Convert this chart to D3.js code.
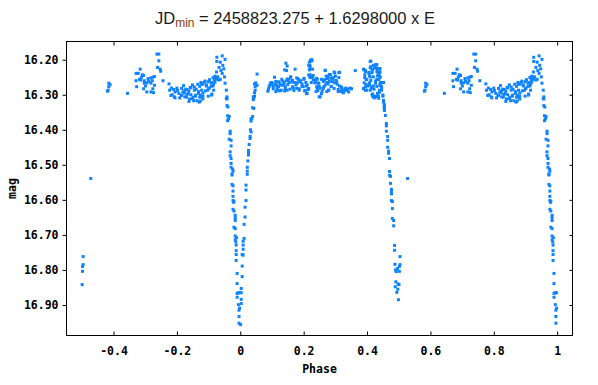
<!DOCTYPE html>
<html><head><meta charset="utf-8">
<script src="https://cdn.jsdelivr.net/npm/d3@7"></script>
<style>body{margin:0;background:#fff}</style>
</head><body>
<svg id="c" width="598" height="385"></svg>
<script>
// ---- tick values ----
const xTicks = [-0.4, -0.2, 0, 0.2, 0.4, 0.6, 0.8, 1];
const yTicks = [16.2, 16.3, 16.4, 16.5, 16.6, 16.7, 16.8, 16.9];
const titleMain = "JD";
const titleSub = "min";
const titleRest = " = 2458823.275 + 1.6298000 x E";

// ---- data: [phase (0..1), mag] ----
const primaryIngress = [[0.956,16.287],[0.956,16.311],[0.958,16.306],[0.958,16.312],[0.958,16.331],[0.961,16.335],[0.960,16.360],[0.965,16.362],[0.963,16.369],[0.960,16.374],[0.968,16.404],[0.968,16.411],[0.965,16.427],[0.971,16.430],[0.971,16.446],[0.968,16.463],[0.968,16.474],[0.971,16.482],[0.971,16.496],[0.971,16.507],[0.976,16.512],[0.977,16.518],[0.974,16.526],[0.974,16.529],[0.974,16.556],[0.977,16.560],[0.977,16.575],[0.977,16.590],[0.977,16.602],[0.980,16.604],[0.979,16.607],[0.977,16.627],[0.980,16.632],[0.984,16.644],[0.984,16.651],[0.984,16.659],[0.980,16.678],[0.984,16.682],[0.984,16.703],[0.988,16.708],[0.984,16.714],[0.986,16.720],[0.987,16.729],[0.987,16.745],[0.987,16.756],[0.987,16.773],[0.990,16.810],[0.990,16.839],[0.990,16.867],[0.994,16.865],[0.990,16.878],[0.998,16.865],[0.994,16.899],[0.998,16.909],[0.996,16.915],[0.996,16.933],[0.996,16.952]];
const primaryEgress = [[0.001,16.956],[0.003,16.853],[0.003,16.865],[0.003,16.884],[0.003,16.896],[0.006,16.789],[0.006,16.819],[0.006,16.756],[0.009,16.758],[0.009,16.741],[0.009,16.729],[0.009,16.718],[0.012,16.710],[0.012,16.670],[0.015,16.649],[0.015,16.621],[0.018,16.602],[0.018,16.572],[0.018,16.558],[0.022,16.527],[0.022,16.518],[0.022,16.507],[0.024,16.489],[0.026,16.472],[0.026,16.466],[0.026,16.459],[0.028,16.442],[0.031,16.425],[0.031,16.419],[0.034,16.406],[0.032,16.400],[0.034,16.375],[0.034,16.369],[0.039,16.362],[0.036,16.368],[0.039,16.337],[0.043,16.339],[0.041,16.314],[0.045,16.304],[0.043,16.309],[0.041,16.306],[0.045,16.294],[0.047,16.287],[0.047,16.277],[0.053,16.273],[0.045,16.269],[0.049,16.266],[0.053,16.241]];
const plateauA = [[0.087,16.290],[0.091,16.277],[0.096,16.266],[0.100,16.271],[0.104,16.283],[0.108,16.250],[0.112,16.262],[0.115,16.273],[0.116,16.287],[0.121,16.277],[0.123,16.266],[0.127,16.288],[0.131,16.256],[0.134,16.273],[0.138,16.264],[0.142,16.283],[0.146,16.260],[0.144,16.210],[0.148,16.218],[0.140,16.229],[0.146,16.231],[0.150,16.271],[0.154,16.256],[0.159,16.250],[0.163,16.264],[0.165,16.277],[0.169,16.288],[0.173,16.227],[0.178,16.252],[0.180,16.266],[0.184,16.256],[0.186,16.283],[0.191,16.260],[0.195,16.269],[0.199,16.277],[0.201,16.256],[0.205,16.288],[0.209,16.275],[0.211,16.296],[0.214,16.285],[0.216,16.216],[0.218,16.207],[0.220,16.224],[0.222,16.201],[0.226,16.203],[0.228,16.227],[0.220,16.243],[0.224,16.250],[0.230,16.245],[0.235,16.266],[0.237,16.258],[0.241,16.277],[0.243,16.256],[0.245,16.288],[0.248,16.267],[0.249,16.306],[0.252,16.281],[0.256,16.256],[0.258,16.290],[0.262,16.262],[0.264,16.277],[0.268,16.231],[0.271,16.247],[0.275,16.254],[0.277,16.269],[0.279,16.287],[0.281,16.262],[0.285,16.243],[0.287,16.277],[0.292,16.256],[0.296,16.235],[0.298,16.266],[0.300,16.247],[0.304,16.262],[0.309,16.285],[0.311,16.237],[0.313,16.275],[0.317,16.290],[0.321,16.283],[0.325,16.294],[0.330,16.288],[0.334,16.281],[0.338,16.287],[0.342,16.292],[0.347,16.281],[0.351,16.283],[0.363,16.231]];
const plateauB = [[0.093,16.272],[0.100,16.265],[0.104,16.276],[0.089,16.284],[0.110,16.270],[0.116,16.280],[0.121,16.263],[0.127,16.272],[0.134,16.261],[0.138,16.270],[0.142,16.278],[0.129,16.287],[0.123,16.289],[0.112,16.291],[0.148,16.255],[0.154,16.265],[0.159,16.249],[0.165,16.259],[0.172,16.265],[0.176,16.272],[0.182,16.255],[0.188,16.263],[0.195,16.276],[0.201,16.253],[0.207,16.265],[0.211,16.272],[0.216,16.282],[0.209,16.297],[0.203,16.289],[0.186,16.287],[0.178,16.282],[0.167,16.280],[0.157,16.284],[0.148,16.287],[0.140,16.289],[0.222,16.204],[0.226,16.200],[0.220,16.217],[0.218,16.229],[0.216,16.244],[0.220,16.251],[0.228,16.249],[0.230,16.257],[0.224,16.265],[0.237,16.263],[0.241,16.253],[0.245,16.267],[0.249,16.276],[0.243,16.284],[0.239,16.291],[0.252,16.306],[0.256,16.297],[0.262,16.282],[0.268,16.272],[0.273,16.265],[0.266,16.257],[0.268,16.230],[0.277,16.247],[0.281,16.242],[0.285,16.253],[0.290,16.263],[0.293,16.251],[0.298,16.238],[0.302,16.259],[0.306,16.270],[0.311,16.251],[0.313,16.236],[0.309,16.291],[0.296,16.282],[0.287,16.276],[0.279,16.287],[0.273,16.291],[0.319,16.278],[0.321,16.290],[0.325,16.294],[0.331,16.283],[0.333,16.285],[0.339,16.284],[0.329,16.288]];
const preSecondary = [[0.412,16.204],[0.429,16.215],[0.425,16.221],[0.433,16.225],[0.441,16.225],[0.391,16.229],[0.395,16.234],[0.410,16.223],[0.406,16.236],[0.416,16.230],[0.431,16.234],[0.439,16.238],[0.408,16.246],[0.420,16.249],[0.433,16.246],[0.441,16.249],[0.393,16.251],[0.399,16.257],[0.412,16.259],[0.427,16.261],[0.437,16.257],[0.444,16.265],[0.452,16.265],[0.397,16.270],[0.408,16.272],[0.416,16.278],[0.431,16.276],[0.441,16.274],[0.446,16.284],[0.389,16.282],[0.395,16.287],[0.410,16.287],[0.422,16.284],[0.416,16.299],[0.420,16.307],[0.429,16.305],[0.439,16.293],[0.450,16.301],[0.452,16.316],[0.454,16.327],[0.454,16.337],[0.437,16.310],[0.389,16.227],[0.395,16.231],[0.393,16.243],[0.397,16.256],[0.391,16.266],[0.389,16.283],[0.395,16.277],[0.399,16.287],[0.403,16.275],[0.408,16.266],[0.410,16.205],[0.412,16.220],[0.406,16.239],[0.410,16.249],[0.416,16.237],[0.418,16.227],[0.420,16.216],[0.425,16.224],[0.427,16.214],[0.431,16.214],[0.433,16.226],[0.435,16.237],[0.439,16.227],[0.441,16.235],[0.437,16.245],[0.441,16.250],[0.444,16.266],[0.446,16.277],[0.439,16.287],[0.433,16.296],[0.425,16.304],[0.418,16.298],[0.414,16.281],[0.420,16.275],[0.427,16.267],[0.431,16.256],[0.441,16.269],[0.446,16.287],[0.417,16.303],[0.425,16.309],[0.436,16.304],[0.450,16.304]];
const secondaryIngress = [[0.452,16.320],[0.455,16.331],[0.455,16.338],[0.455,16.345],[0.458,16.359],[0.461,16.382],[0.461,16.389],[0.461,16.404],[0.465,16.419],[0.465,16.430],[0.465,16.450],[0.468,16.461],[0.468,16.467],[0.471,16.482],[0.471,16.519],[0.471,16.530],[0.474,16.533],[0.474,16.553],[0.477,16.570],[0.477,16.577],[0.477,16.583],[0.477,16.602],[0.480,16.605],[0.480,16.625],[0.480,16.653],[0.484,16.659],[0.484,16.674]];
const secondaryMin = [[0.487,16.730],[0.487,16.744],[0.504,16.762],[0.488,16.784],[0.504,16.785],[0.502,16.790],[0.490,16.800],[0.492,16.805],[0.502,16.804],[0.496,16.796],[0.491,16.834],[0.498,16.840],[0.501,16.842],[0.489,16.848],[0.497,16.855],[0.494,16.864],[0.499,16.885],[0.528,16.539]];
const plateauC = [[0.585,16.267],[0.589,16.271],[0.585,16.277],[0.583,16.287],[0.581,16.290],[0.644,16.296],[0.684,16.227],[0.671,16.239],[0.678,16.239],[0.691,16.243],[0.695,16.245],[0.688,16.250],[0.682,16.256],[0.671,16.260],[0.686,16.258],[0.697,16.260],[0.709,16.254],[0.718,16.252],[0.724,16.250],[0.729,16.248],[0.711,16.262],[0.722,16.260],[0.718,16.267],[0.705,16.266],[0.697,16.267],[0.701,16.275],[0.695,16.283],[0.705,16.292],[0.718,16.292],[0.724,16.283],[0.726,16.294],[0.673,16.277],[0.729,16.273],[0.756,16.260],[0.737,16.184],[0.743,16.184],[0.743,16.203],[0.739,16.222],[0.747,16.227],[0.749,16.233],[0.775,16.269]];
const plateauD = [[0.777,16.287],[0.783,16.281],[0.790,16.285],[0.794,16.292],[0.800,16.281],[0.802,16.288],[0.785,16.300],[0.792,16.306],[0.806,16.296],[0.813,16.302],[0.819,16.292],[0.825,16.288],[0.832,16.285],[0.836,16.296],[0.842,16.279],[0.844,16.300],[0.849,16.311],[0.855,16.287],[0.859,16.304],[0.863,16.317],[0.868,16.296],[0.872,16.307],[0.878,16.287],[0.878,16.269],[0.887,16.264],[0.893,16.275],[0.897,16.287],[0.901,16.281],[0.908,16.267],[0.914,16.275],[0.916,16.287],[0.920,16.264],[0.925,16.256],[0.929,16.249],[0.920,16.247],[0.933,16.258],[0.910,16.298],[0.899,16.304],[0.882,16.304],[0.870,16.321],[0.853,16.317],[0.838,16.319],[0.825,16.306],[0.809,16.309],[0.794,16.309],[0.781,16.302],[0.815,16.282],[0.821,16.274],[0.828,16.284],[0.815,16.301],[0.823,16.295],[0.832,16.299],[0.838,16.289],[0.844,16.280],[0.849,16.272],[0.855,16.278],[0.861,16.284],[0.866,16.270],[0.872,16.276],[0.876,16.265],[0.882,16.270],[0.889,16.261],[0.893,16.272],[0.899,16.263],[0.903,16.257],[0.910,16.265],[0.914,16.251],[0.918,16.257],[0.868,16.291],[0.859,16.301],[0.851,16.307],[0.840,16.312],[0.830,16.307],[0.874,16.301],[0.882,16.295],[0.890,16.289],[0.901,16.282],[0.908,16.276],[0.916,16.269],[0.877,16.306],[0.882,16.312],[0.874,16.318],[0.910,16.301]];
const peak = [[0.926,16.193],[0.943,16.189],[0.952,16.199],[0.926,16.205],[0.937,16.207],[0.945,16.216],[0.933,16.222],[0.948,16.226],[0.939,16.231],[0.925,16.235],[0.943,16.239],[0.950,16.249],[0.923,16.250],[0.937,16.256],[0.952,16.267]];

const allPoints = [].concat(primaryIngress, primaryEgress, plateauA, plateauB, preSecondary,
  secondaryIngress, secondaryMin, plateauC, plateauD, peak);
// phase-folded display: phases >= 0.5 are repeated one cycle earlier
const shown = [];
allPoints.forEach(([p, m]) => {
  shown.push([p, m]);
  if (p >= 0.5) shown.push([p - 1, m]);
});

const W = 598, H = 385;
const L = 66, R = 573, T = 41, B = 336;
const svg = d3.select("#c");
const x = d3.scaleLinear().domain([-0.55, 1.05]).range([L, R]);
const y = d3.scaleLinear().domain([16.1466, 16.9886]).range([T, B]);

const tickFont = "'DejaVu Sans Mono', monospace";

// points
svg.append("g").selectAll("rect").data(shown).join("rect")
  .attr("x", d => x(d[0]) - 1.5).attr("y", d => y(d[1]) - 1.5)
  .attr("width", 3).attr("height", 3).attr("fill", "#0f83ff");

// frame
svg.append("rect").attr("x", L + 0.5).attr("y", T + 0.5)
  .attr("width", R - L - 1).attr("height", B - T - 1)
  .attr("fill", "none").attr("stroke", "#000").attr("stroke-width", 1);

const fmtX = v => (v === 0 ? "0" : v === 1 ? "1" : v.toFixed(1));
function styleAxis(g) {
  g.select(".domain").remove();
  g.selectAll("line").attr("stroke", "#000");
  g.selectAll("text").attr("font-family", tickFont).attr("font-weight", "bold")
    .attr("font-size", "11.5px").attr("fill", "#000");
}
svg.append("g").attr("transform", `translate(0,${B - 0.5})`)
  .call(d3.axisBottom(x).tickValues(xTicks).tickFormat(fmtX).tickSize(-4).tickPadding(11))
  .call(styleAxis);
svg.append("g").attr("transform", `translate(0,${T + 0.5})`)
  .call(d3.axisTop(x).tickValues(xTicks).tickFormat("").tickSize(-4))
  .call(styleAxis);
svg.append("g").attr("transform", `translate(${L + 0.5},0)`)
  .call(d3.axisLeft(y).tickValues(yTicks).tickFormat(d => d.toFixed(2)).tickSize(4).tickPadding(4))
  .call(styleAxis);
svg.append("g").attr("transform", `translate(${R - 0.5},0)`)
  .call(d3.axisRight(y).tickValues(yTicks).tickFormat("").tickSize(-3))
  .call(styleAxis);

// axis titles
svg.append("text").attr("x", (L + R) / 2).attr("y", 373).attr("text-anchor", "middle")
  .attr("font-family", tickFont).attr("font-weight", "bold").attr("font-size", "11.5px")
  .text("Phase");
svg.append("text").attr("transform", `translate(16,${(T + B) / 2}) rotate(-90)`)
  .attr("text-anchor", "middle").attr("font-family", tickFont).attr("font-weight", "bold")
  .attr("font-size", "11.5px").text("mag");

// title
const t = svg.append("text").attr("x", 155).attr("y", 24).attr("text-anchor", "start")
  .attr("font-family", "'Liberation Sans', Arial, sans-serif").attr("font-size", "16.5px").attr("fill", "#1a1a1a");
t.append("tspan").text(titleMain);
t.append("tspan").attr("font-size", "12px").attr("dy", 3).attr("fill", "#8b3a14").text(titleSub);
t.append("tspan").attr("dy", -3).text(titleRest);
</script>
</body></html>
